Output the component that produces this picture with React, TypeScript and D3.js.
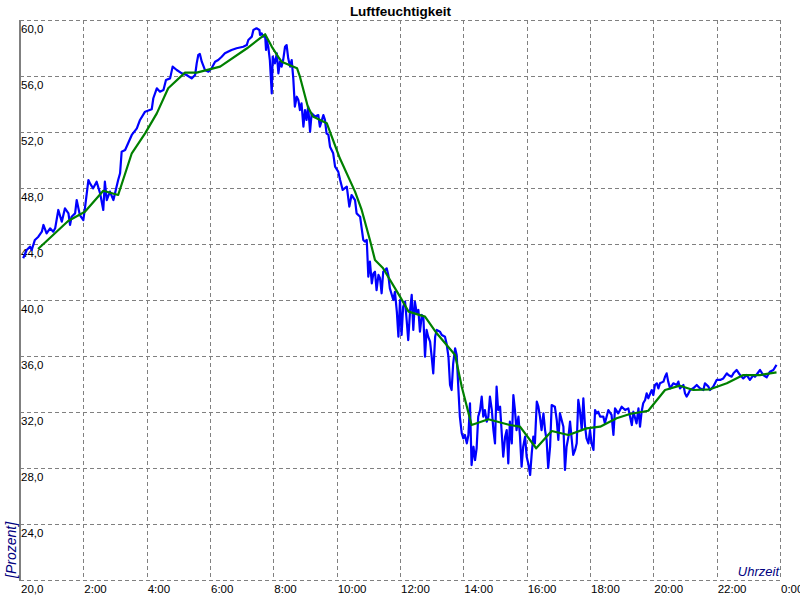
import React from "react";
import * as d3 from "d3";

const TITLE = "Luftfeuchtigkeit";
const Y_LABEL = "[Prozent]";
const X_LABEL = "Uhrzeit";

// Measured humidity (blue): time in hours, value in %
const blueHours = [
  0.10, 0.21, 0.32, 0.37, 0.47, 0.58, 0.69, 0.74, 0.84, 0.95, 1.05, 1.11, 1.21, 1.32, 1.42, 1.53, 1.58, 1.63, 1.74, 1.79,
  1.89, 2.00, 2.05, 2.16, 2.21, 2.31, 2.42, 2.53, 2.63, 2.68, 2.74, 2.84, 2.95, 3.10, 3.16, 3.21, 3.32,
  3.53, 3.69, 3.79, 3.95, 4.16, 4.21, 4.32, 4.42, 4.53, 4.61, 4.74, 4.82, 4.95, 5.11, 5.26, 5.42, 5.53, 5.58, 5.63, 5.68,
  5.74, 5.84, 5.95, 6.05, 6.16, 6.26, 6.37, 6.47, 6.68, 6.84, 7.05, 7.16, 7.21, 7.32, 7.37, 7.47, 7.56, 7.58, 7.63, 7.68,
  7.74, 7.77, 7.79, 7.84, 7.89, 7.95, 7.98, 8.05, 8.11, 8.16, 8.21, 8.26, 8.31, 8.37, 8.42, 8.47, 8.53, 8.58, 8.63, 8.68,
  8.74, 8.79, 8.84, 8.89, 8.95, 9.00, 9.05, 9.10, 9.16, 9.21, 9.32, 9.42, 9.47, 9.58, 9.63, 9.68, 9.74, 9.79, 9.89, 9.95,
  10.05, 10.11, 10.19, 10.32, 10.40, 10.47, 10.58, 10.63, 10.74, 10.79, 10.84, 10.89, 10.95, 11.00, 11.05, 11.11, 11.16,
  11.21, 11.26, 11.32, 11.37, 11.42, 11.47, 11.58, 11.63, 11.68, 11.79, 11.84, 11.90, 11.95, 12.00, 12.05, 12.10, 12.16,
  12.21, 12.26, 12.32, 12.37, 12.42, 12.47, 12.53, 12.58, 12.63, 12.69, 12.74, 12.79, 12.84, 12.89, 12.95, 13.00, 13.05,
  13.11, 13.16, 13.26, 13.32, 13.42, 13.47, 13.53, 13.58, 13.63, 13.68, 13.74, 13.79, 13.84, 13.89, 13.95, 14.00, 14.05,
  14.11, 14.16, 14.21, 14.26, 14.32, 14.37, 14.42, 14.47, 14.53, 14.58, 14.63, 14.68, 14.74, 14.79, 14.84, 14.90, 14.95,
  15.00, 15.05, 15.10, 15.16, 15.21, 15.26, 15.32, 15.37, 15.42, 15.47, 15.53, 15.58, 15.63, 15.68, 15.74, 15.79, 15.84,
  15.89, 15.95, 16.00, 16.05, 16.11, 16.16, 16.21, 16.26, 16.32, 16.37, 16.42, 16.47, 16.53, 16.58, 16.63, 16.68, 16.74,
  16.79, 16.89, 16.95, 17.00, 17.05, 17.16, 17.21, 17.26, 17.32, 17.37, 17.47, 17.53, 17.58, 17.63, 17.68, 17.74, 17.79,
  17.84, 17.89, 17.95, 18.00, 18.05, 18.11, 18.16, 18.21, 18.26, 18.32, 18.42, 18.47, 18.58, 18.68, 18.74, 18.79, 18.89,
  19.00, 19.11, 19.21, 19.32, 19.37, 19.47, 19.53, 19.58, 19.63, 19.68, 19.74, 19.79, 19.84, 19.95, 20.00, 20.05, 20.11,
  20.16, 20.21, 20.32, 20.37, 20.42, 20.47, 20.53, 20.63, 20.74, 20.79, 20.84, 20.95, 21.00, 21.05, 21.11, 21.16, 21.26,
  21.37, 21.47, 21.58, 21.63, 21.74, 21.79, 21.89, 22.00, 22.11, 22.21, 22.32, 22.37, 22.47, 22.53, 22.63, 22.74, 22.84,
  22.95, 23.05, 23.16, 23.21, 23.37, 23.47, 23.58, 23.68, 23.79, 23.89,
];
const blueValues = [
  42.98, 43.57, 43.81, 43.57, 44.29, 44.52, 44.88, 45.36, 44.76, 45.12, 44.88, 45.12, 46.43, 45.59, 46.55, 46.19, 45.36, 45.95, 46.19, 47.14,
  46.07, 45.71, 46.55, 48.57, 48.33, 47.98, 48.45, 47.62, 46.43, 48.45, 47.14, 47.74, 47.14, 48.57, 49.05, 50.59, 50.71,
  51.79, 52.26, 52.86, 53.45, 53.62, 54.41, 55.12, 54.88, 55.00, 55.71, 55.83, 56.67, 56.43, 56.19, 56.07, 55.83, 56.07, 56.90, 57.50, 57.57,
  57.02, 56.43, 56.31, 56.55, 57.02, 57.14, 57.38, 57.62, 57.86, 57.98, 58.09, 58.21, 58.57, 58.81, 59.29, 59.41, 59.29, 58.93, 59.05, 58.81,
  58.93, 57.86, 58.57, 58.09, 57.14, 54.76, 57.38, 56.90, 57.62, 56.19, 57.02, 56.67, 57.14, 58.09, 58.21, 57.26, 56.67, 57.14, 55.83, 53.81,
  54.52, 54.29, 53.57, 54.05, 52.38, 53.57, 52.86, 53.81, 52.02, 53.33, 53.10, 53.21, 52.38, 53.21, 52.86, 51.90, 51.79, 50.95, 50.48, 49.52,
  49.17, 48.57, 47.86, 48.10, 46.67, 47.50, 47.14, 46.19, 45.95, 45.12, 44.29, 44.17, 44.29, 41.67, 42.74, 41.19, 41.90,
  42.02, 40.71, 41.79, 41.55, 40.48, 42.02, 42.26, 41.79, 40.83, 40.00, 40.59, 39.17, 37.38, 40.00, 37.50, 39.52, 39.88,
  38.57, 37.14, 39.29, 40.36, 37.86, 39.88, 39.05, 39.29, 37.74, 38.93, 38.69, 35.95, 37.86, 37.38, 37.02, 35.95, 34.76,
  37.38, 37.86, 37.74, 37.50, 37.38, 36.90, 35.95, 33.93, 33.57, 35.48, 36.55, 36.07, 33.81, 31.67, 30.48, 30.12, 30.36,
  29.76, 30.36, 32.62, 28.21, 29.52, 28.57, 29.41, 31.67, 32.14, 33.10, 31.67, 32.14, 31.31, 31.67, 33.10, 32.14, 30.71,
  29.76, 33.81, 32.14, 32.38, 30.59, 28.81, 30.24, 30.71, 28.33, 31.31, 29.76, 33.21, 32.14, 30.71, 31.67, 30.24, 28.10,
  29.52, 30.24, 28.81, 28.33, 27.50, 29.05, 30.24, 29.76, 32.74, 32.38, 31.67, 30.71, 31.90, 30.71, 30.00, 28.00, 29.52,
  32.50, 32.38, 31.43, 30.00, 31.90, 30.95, 27.86, 29.52, 30.24, 31.31, 28.93, 29.29, 29.76, 32.86, 32.14, 30.71, 32.98,
  31.07, 30.12, 29.76, 30.71, 29.76, 29.29, 32.14, 31.90, 32.02, 31.67, 31.67, 31.19, 32.14, 31.79, 30.36, 32.26, 31.90,
  32.38, 32.14, 32.26, 31.07, 32.02, 31.19, 32.26, 30.95, 32.02, 32.62, 32.86, 33.33, 32.98, 33.57, 33.21, 33.93, 34.05,
  33.69, 34.05, 34.17, 34.52, 34.76, 34.17, 33.69, 34.05, 33.93, 34.17, 33.69, 33.93, 33.33, 33.10, 33.33, 33.57, 33.69,
  33.93, 33.69, 33.57, 34.05, 33.81, 33.57, 33.81, 34.29, 34.29, 34.40, 34.76, 34.64, 34.52, 34.76, 35.00, 34.64, 34.40,
  34.64, 34.29, 34.64, 34.52, 35.00, 34.64, 34.48, 34.88, 35.00, 35.36,
];

// Smoothed humidity (green)
const greenHours = [
  0.57, 1.52, 2.05, 2.63, 3.10, 3.53, 3.95, 4.32, 4.68, 5.21, 5.58, 6.32, 7.17, 7.74, 7.95, 8.15, 8.26, 8.75, 8.84, 9.09,
  9.25, 9.69, 10.10, 10.58, 10.79, 11.05, 11.21, 11.46, 12.00, 12.27, 12.79, 13.16, 13.74, 13.95, 14.26, 14.79, 15.47,
  15.79, 16.30, 16.79, 17.32, 17.89, 18.32, 18.84, 19.26, 19.84, 20.37, 20.84, 21.26, 21.79, 22.32, 22.84, 23.37, 23.89,
];
const greenValues = [
  43.64, 45.64, 46.30, 47.80, 47.50, 50.48, 51.90, 53.33, 55.12, 56.24, 56.24, 56.67, 57.98, 58.98, 58.10, 57.38, 57.02, 56.55, 55.95, 53.81,
  53.10, 52.62, 50.12, 47.74, 46.43, 44.29, 42.86, 42.29, 40.24, 39.17, 38.81, 37.62, 36.07, 33.81, 31.07, 31.48, 31.07,
  30.95, 29.41, 30.64, 30.36, 30.83, 30.95, 31.55, 31.86, 32.09, 33.57, 33.88, 33.57, 33.62, 34.05, 34.64, 34.64, 34.83,
];

const yTicks = [20, 24, 28, 32, 36, 40, 44, 48, 52, 56, 60];
const xTicks = [0, 2, 4, 6, 8, 10, 12, 14, 16, 18, 20, 22, 24];
const xTickLabels = ["0:00", "2:00", "4:00", "6:00", "8:00", "10:00", "12:00", "14:00", "16:00", "18:00", "20:00", "22:00", "0:00"];

const W = 800;
const H = 600;
const M = { left: 20, right: 20, top: 20, bottom: 20 };

export default function App() {
  const x = d3.scaleLinear().domain([0, 24]).range([M.left, W - M.right]);
  const y = d3.scaleLinear().domain([20, 60]).range([H - M.bottom, M.top]);

  const blue = blueHours.map((h, i) => [h, blueValues[i]] as [number, number]);
  const green = greenHours.map((h, i) => [h, greenValues[i]] as [number, number]);
  const line = d3
    .line<[number, number]>()
    .x((d) => x(d[0]))
    .y((d) => y(d[1]));

  const fmt = (v: number) => v.toFixed(1).replace(".", ",");
  const font = "'Liberation Sans', Arial, sans-serif";
  const grid = "#808080";

  return (
    <svg
      width={W}
      height={H}
      style={{ position: "fixed", left: 0, top: 0, background: "#fff" }}
      fontFamily={font}
    >
      <rect x={0} y={0} width={W} height={H} fill="#fff" />
      {/* horizontal grid */}
      {yTicks.map((t) => (
        <line
          key={"h" + t}
          x1={x(0)}
          x2={x(24)}
          y1={Math.round(y(t)) + 0.5}
          y2={Math.round(y(t)) + 0.5}
          stroke={grid}
          strokeWidth={1}
          strokeDasharray="4,3"
        />
      ))}
      {/* vertical grid */}
      {xTicks.slice(1).map((t) => (
        <line
          key={"v" + t}
          x1={Math.round(x(t)) + 0.5}
          x2={Math.round(x(t)) + 0.5}
          y1={y(60)}
          y2={y(20)}
          stroke={grid}
          strokeWidth={1}
          strokeDasharray="4,3"
        />
      ))}
      {/* left axis */}
      <line x1={x(0)} x2={x(0)} y1={y(60)} y2={y(20) + 1} stroke={grid} strokeWidth={2} />

      {/* y tick labels */}
      {yTicks.map((t) => (
        <text key={"yl" + t} x={x(0) + 1} y={y(t) + 13} fontSize={11.5} fill="#000">
          {fmt(t)}
        </text>
      ))}
      {/* x tick labels */}
      {xTicks.map((t, i) =>
        i === 0 ? null : (
          <text key={"xl" + t} x={x(t) + 1} y={y(20) + 13} fontSize={11.5} fill="#000">
            {xTickLabels[i]}
          </text>
        )
      )}

      {/* data */}
      <path d={line(blue) || ""} fill="none" stroke="#0000ff" strokeWidth={2.2} strokeLinejoin="round" />
      <path d={line(green) || ""} fill="none" stroke="#008000" strokeWidth={2.2} strokeLinejoin="round" />

      {/* titles */}
      <text x={400.5} y={16} textAnchor="middle" fontSize={13.5} fontWeight="bold" fill="#000">
        {TITLE}
      </text>
      <text
        transform={`translate(16, ${y(20) - 2}) rotate(-90)`}
        fontSize={14}
        fontStyle="italic"
        fill="#000080"
      >
        {Y_LABEL}
      </text>
      <text x={779} y={576} textAnchor="end" fontSize={13} fontStyle="italic" fill="#000080">
        {X_LABEL}
      </text>
    </svg>
  );
}
